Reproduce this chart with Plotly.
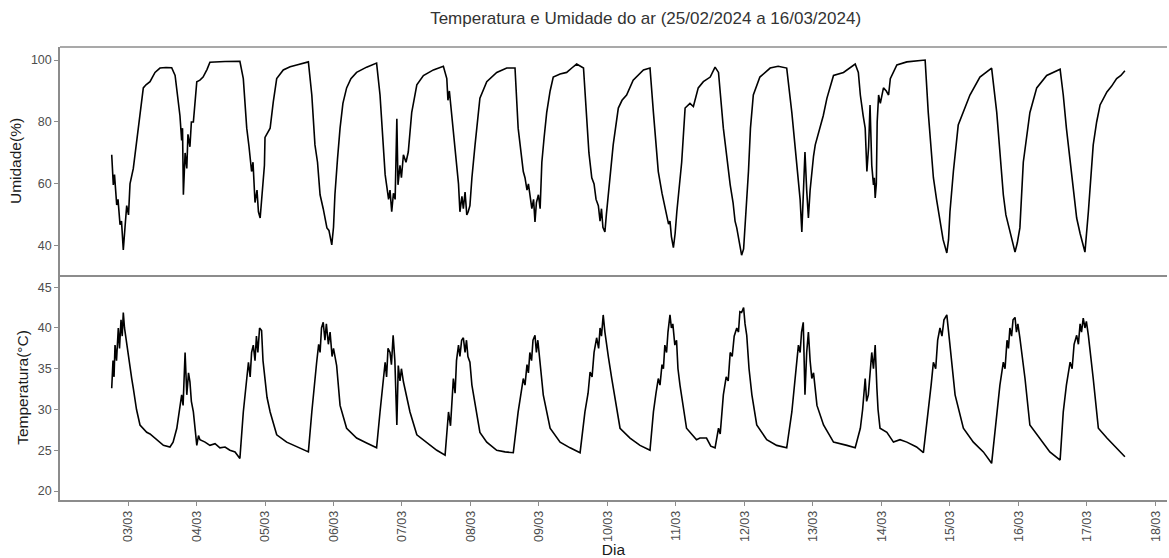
import pandas as pd
import plotly.graph_objects as go
from plotly.subplots import make_subplots

# Horas desde 03/03/2024 00:00 e valores
horas_umid = [-5.71, -5.15, -4.73, -3.96, -3.5, -2.8, -2.28, -1.65, -1.05, -0.46, 0.18, 0.70, 1.86, 2.8, 3.61, 4.55,
              5.36, 6.3, 7.71, 9.46, 11.2, 13.3, 15.3, 16.5, 17.6, 18.2, 18.8, 19.1, 19.4, 20.0, 20.6, 21.0, 21.7,
              22.2, 22.9, 23.5, 24.1, 25.2, 26.3, 27.7, 28.7, 34.0, 39.2, 40.4, 41.6, 42.4, 43.3, 43.8, 44.5, 45.2,
              45.7, 46.3, 46.8, 47.4, 47.8, 48.0, 48.7, 49.8, 50.9, 52.1, 54.4, 56.8, 59.1, 63.2, 64.4, 65.5, 66.4,
              67.3, 68.4, 69.7, 70.4, 71.4, 72.0, 72.5, 73.4, 74.3, 75.3, 76.6, 78.1, 80.1, 83.6, 87.1, 88.3, 89.5,
              90.1, 90.6, 91.3, 91.8, 92.4, 93.0, 93.6, 94.2, 94.6, 95.3, 95.8, 96.5, 97.4, 98.2, 99.4, 101.2,
              103.5, 107.0, 110.5, 111.7, 112.1, 112.6, 113.4, 114.2, 115.2, 115.8, 116.3, 117.0, 117.5, 118.1,
              118.7, 119.2, 119.8, 120.5, 121.6, 123.3, 125.7, 129.2, 132.7, 135.6, 136.7, 137.7, 138.5, 139.1,
              139.8, 140.3, 140.8, 141.5, 142.1, 142.6, 143.1, 143.8, 144.4, 145.0, 145.8, 146.7, 147.9, 149.0,
              151.4, 153.7, 155.6, 157.2, 159.6, 160.7, 161.5, 162.5, 163.3, 164.0, 164.8, 165.4, 165.9, 166.4,
              167.1, 167.6, 168.3, 169.0, 170.0, 171.8, 173.1, 174.7, 177.0, 180.6, 182.9, 184.1, 185.8, 187.1,
              187.8, 188.8, 189.4, 189.9, 190.4, 191.1, 191.7, 192.3, 193.1, 194.0, 195.2, 196.9, 198.1, 199.8,
              201.6, 204.0, 205.7, 206.9, 208.6, 209.6, 211.0, 212.0, 212.7, 213.3, 213.9, 214.4, 215.0, 215.7,
              216.2, 217.4, 218.1, 219.1, 221.4, 225.0, 227.8, 230.8, 232.6, 233.7, 234.9, 235.5, 236.1, 236.6,
              237.2, 237.8, 238.4, 239.0, 239.6, 240.2, 240.8, 242.5, 243.6, 244.9, 247.2, 250.7, 253.1, 254.8,
              255.9, 256.6, 257.6, 258.3, 258.9, 259.5, 260.0, 260.6, 261.2, 261.5, 261.8, 262.2, 262.5, 263.0,
              263.6, 264.7, 265.7, 266.5, 267.1, 269.4, 272.9, 275.8, 279.3, 280.4, 282.2, 283.3, 284.5, 285.6,
              286.9, 287.5, 288.0, 289.2, 290.9, 292.7, 295.0, 298.5, 302.6, 304.4, 305.5, 306.7, 307.6, 308.4,
              309.5, 310.8, 311.6, 312.5, 313.7, 316.0, 318.4, 321.9, 326.6, 327.7, 328.8, 330.1, 331.1, 332.4,
              333.6, 334.4, 335.3, 336.5, 338.2, 339.4, 340.6, 343.0, 344.6, 346.4, 347.9, 349.3]
umidade = [69.4, 59.7, 63, 53.2, 55, 46.8, 48, 38.7, 46, 53, 50, 60, 65, 72, 78, 86,
           91, 92, 93, 96, 97.4, 97.6, 97.5, 95, 85.5, 82, 74, 78, 56.5, 70, 65, 76, 72,
           80, 80, 87, 93, 93.5, 94.5, 97, 99.3, 99.5, 99.6, 94, 78, 72, 64, 67, 54, 58,
           51, 49, 55, 59.7, 66, 75, 76, 78, 86.5, 94, 96.8, 97.8, 98.4, 99.4, 88.7, 72.6, 67,
           56.5, 52, 45.8, 45, 40.3, 46, 56.5, 68, 78, 86, 91, 94, 96, 97.7, 99, 88.7, 70.3,
           63, 59.7, 55, 58, 51, 57, 55, 81, 59.7, 66, 62, 69.4, 67, 70.3, 83, 92,
           95, 96.8, 98, 94, 87, 90, 83, 75, 67, 60, 51, 56, 52, 57.4,
           50, 51, 53, 62, 72.6, 87.7, 93, 96, 97.4, 97.4, 78, 70, 64, 62,
           58, 60, 56.5, 52, 55, 47.7, 54, 56.5, 52, 67, 75, 83, 90, 94.5,
           95.5, 96, 97.5, 98.7, 97.4, 83, 70, 62, 60, 55, 53, 48, 52, 46,
           44.5, 50, 56.5, 64, 72.6, 84.5, 87, 88.7, 93.5, 96.8, 97.4, 83, 64, 57,
           54, 50, 47, 48, 43, 39.4, 44, 51, 58, 67, 84.5, 86, 85, 91,
           93, 94.5, 97.7, 96, 78, 70, 59.7, 54, 48, 45.8, 43, 40, 37, 39,
           45.8, 64, 78, 88.7, 94.5, 97.4, 98, 97.4, 83, 72, 62, 55, 44.5, 55,
           70.3, 58, 49, 58, 64, 69, 72.6, 78, 82, 87.7, 95, 96, 97.5, 98.7,
           96, 88.7, 82, 78, 64, 72, 85.5, 66, 59.7, 62, 55.5, 60, 80, 88.7,
           86, 91, 90, 88.7, 94, 98.4, 99.4, 99.6, 100, 83, 62, 55, 47.7, 42,
           37.7, 42, 51, 64, 79, 83, 88.7, 94.5, 97.4, 83, 70, 56.5, 50, 46.8,
           43, 38, 41, 45.8, 67, 83, 91, 95, 97, 88.7, 78, 67, 58, 49,
           44, 41, 38, 51, 72.6, 80, 85.5, 89.7, 91.5, 94, 95, 96.5]

horas_temp = [-5.71, -5.26, -4.9, -4.55, -4.03, -3.4, -2.98, -2.45, -2.03, -1.65, -1.23, -0.46, 0.18, 1.30, 1.86,
              2.98, 4.20, 6.55, 7.71, 9.46, 11.2, 12.4, 14.7, 15.8, 17.1, 17.9, 18.8, 19.3, 20.0, 20.6, 21.2, 21.7,
              22.2, 22.9, 23.5, 24.1, 24.7, 25.2, 27.0, 28.7, 30.5, 32.2, 34.0, 35.7, 37.5, 39.2, 40.4, 41.3, 42.2,
              42.8, 43.3, 43.9, 44.5, 45.0, 45.5, 46.1, 46.8, 47.3, 48.0, 48.7, 49.8, 52.1, 55.6, 60.3, 63.2, 64.4,
              65.2, 66.1, 66.8, 67.3, 67.8, 68.4, 69.0, 69.5, 70.2, 70.8, 71.5, 72.0, 73.1, 74.3, 76.6, 80.1, 83.6,
              87.1, 88.3, 89.2, 90.1, 90.6, 91.1, 91.8, 92.3, 92.9, 93.5, 94.2, 94.7, 95.3, 95.8, 96.5, 97.6, 98.8,
              101.2, 104.7, 108.2, 111.1, 112.3, 113.0, 114.0, 114.6, 115.1, 115.8, 116.3, 116.9, 117.5, 118.1,
              118.6, 119.1, 119.8, 120.5, 121.6, 123.3, 125.7, 129.2, 132.1, 135.0, 136.7, 137.7, 138.5, 139.1,
              139.8, 140.3, 140.8, 141.4, 141.9, 142.6, 143.1, 143.6, 144.3, 145.5, 147.9, 151.4, 154.9, 158.4,
              160.1, 161.2, 161.9, 162.6, 163.3, 164.2, 164.9, 165.4, 165.9, 166.5, 167.1, 167.7, 168.3, 169.5,
              171.0, 172.4, 175.9, 179.4, 182.9, 184.1, 185.0, 185.8, 186.4, 187.1, 187.6, 188.1, 188.7, 189.2,
              189.9, 190.4, 190.9, 191.6, 192.2, 192.7, 193.4, 195.7, 199.2, 200.4, 202.7, 204.2, 205.7, 206.9,
              207.5, 208.6, 209.6, 210.3, 211.0, 211.7, 212.4, 213.3, 213.9, 214.4, 215.0, 215.7, 216.2, 216.8,
              217.6, 218.6, 220.3, 223.8, 227.3, 230.8, 232.6, 233.7, 234.9, 235.5, 236.0, 236.6, 237.2, 237.8,
              238.4, 239.0, 239.6, 240.2, 241.4, 243.7, 247.2, 251.9, 254.8, 256.6, 257.4, 258.3, 258.8, 259.4,
              260.0, 260.6, 261.2, 261.8, 262.4, 262.8, 263.5, 265.9, 268.2, 270.5, 272.9, 276.3, 278.7, 280.4,
              281.4, 282.2, 283.0, 283.7, 284.5, 285.2, 285.9, 286.9, 287.4, 288.0, 289.8, 292.7, 296.2, 299.7,
              302.6, 304.4, 305.5, 306.7, 307.3, 308.0, 308.5, 309.0, 309.6, 310.1, 310.8, 311.3, 311.8, 312.5,
              314.3, 316.0, 319.5, 323.0, 326.6, 327.7, 328.8, 330.1, 330.8, 331.5, 332.4, 333.0, 333.6, 334.1,
              334.7, 335.3, 335.8, 336.5, 338.2, 340.0, 343.0, 346.4, 349.3]
temperatura = [32.6, 36, 34, 37.9, 36, 40, 37.5, 41, 39, 41.9, 40, 37.9, 36.5, 33.8, 32.6,
               30, 28.1, 27.2, 27.0, 26.5, 26, 25.6, 25.4, 26, 27.7, 29.5, 31.8, 30.5, 37, 31.8, 34.5, 33.4,
               31, 29.7, 27.5, 25.6, 26.8, 26.3, 26, 25.6, 25.8, 25.3, 25.4, 25, 24.8, 24, 29.7, 33, 35.8,
               34, 37, 37.9, 36, 39, 37, 40, 39.7, 36, 33.8, 31.5, 29.7, 26.9, 26, 25.3, 24.8, 29.7,
               33, 35.8, 38, 37, 40, 40.7, 38.5, 40.5, 38, 39.5, 36.5, 37.5, 35.4, 30.5, 27.7, 26.5, 25.9,
               25.3, 29.7, 33, 35.8, 34, 37.5, 37, 35.5, 39.1, 36, 28.1, 35.4, 33.5, 35, 33.4, 31.5, 29.7,
               26.9, 25.9, 25, 24.4, 29.7, 28, 33.8, 32, 36, 37.9, 36.5, 38.5, 38.8, 37,
               38.5, 36.5, 35.8, 33, 30.5, 27.2, 26, 25, 24.8, 24.7, 29.7, 32, 33.8, 33,
               35.5, 34.5, 37, 36, 38.5, 39.1, 37, 38.5, 35.8, 31.8, 27.7, 26, 25.3, 24.7,
               29.7, 32, 34.6, 34, 37, 38.8, 37.5, 40, 39, 41.6, 39.5, 37.9, 36.5, 33.8,
               30.5, 27.7, 26.5, 25.6, 25, 29.7, 32, 33.8, 33, 35.5, 35, 37.9, 37, 39.5,
               41.6, 40, 40.5, 37.9, 38.5, 35, 33, 27.7, 26.3, 26.5, 26.5, 25.5, 25.3, 27.7,
               27, 31.8, 34, 33.5, 37, 36.5, 39, 40, 39.5, 42, 41.9, 42.5, 40.5, 39.1,
               35, 31.8, 28.1, 26.3, 25.6, 25.3, 29.7, 34, 37.9, 37, 39.5, 40.7, 31.8, 37,
               39.5, 36, 33.8, 34.5, 30.5, 28.1, 26, 25.6, 25.3, 27.7, 30, 33.8, 31, 31.8,
               35, 37, 35, 37.9, 32.6, 30, 27.7, 27.2, 26, 26.3, 26, 25.4, 24.7, 29.7,
               33, 35.8, 35, 38.5, 40, 39, 41, 41.6, 39.5, 37.9, 31.8, 27.7, 26, 24.8,
               23.4, 29.7, 33, 35.8, 35, 38.5, 37.5, 40, 39, 41, 41.3, 39.5, 40.5, 38.8,
               33.8, 28.1, 26.5, 24.8, 23.8, 29.7, 33, 35.8, 35, 38, 39.1, 38, 40.5, 39.5,
               41.2, 40, 40.8, 39.1, 33.8, 27.7, 26.5, 25.3, 24.2]

dias_ticks = ["03/03", "04/03", "05/03", "06/03", "07/03", "08/03", "09/03", "10/03",
              "11/03", "12/03", "13/03", "14/03", "15/03", "16/03", "17/03", "18/03"]
umid_ticks = [40, 60, 80, 100]
temp_ticks = [20, 25, 30, 35, 40, 45]

base = pd.Timestamp("2024-03-03 00:00")
t_umid = base + pd.to_timedelta(horas_umid, unit="h")
t_temp = base + pd.to_timedelta(horas_temp, unit="h")
tick_dates = [pd.Timestamp(f"2024-{d[3:5]}-{d[0:2]}") for d in dias_ticks]

fig = make_subplots(rows=2, cols=1, shared_xaxes=True, vertical_spacing=0)
fig.add_trace(go.Scatter(x=t_umid, y=umidade, mode="lines",
                         line=dict(color="black", width=1.6), showlegend=False), row=1, col=1)
fig.add_trace(go.Scatter(x=t_temp, y=temperatura, mode="lines",
                         line=dict(color="black", width=1.6), showlegend=False), row=2, col=1)

FONT = "Liberation Sans, Arial, sans-serif"
axis_grey = "#8c8c8c"
tick_font = dict(family=FONT, size=12.5, color="#4d4d4d")
title_font = dict(family=FONT, size=15.5, color="#1a1a1a")
xr = [base + pd.Timedelta(hours=-23.83), base + pd.Timedelta(hours=364.05)]

fig.update_xaxes(range=xr, showgrid=False, zeroline=False, showline=True, linecolor=axis_grey,
                 linewidth=1.5, automargin=False)
fig.update_xaxes(ticks="", showticklabels=False, row=1, col=1)
fig.update_xaxes(ticks="outside", ticklen=4, tickcolor=axis_grey, tickvals=tick_dates,
                 ticktext=dias_ticks, tickangle=-90, tickfont=tick_font,
                 title=dict(text="Dia", font=title_font, standoff=3),
                 row=2, col=1)
fig.update_yaxes(showgrid=False, zeroline=False, showline=True, linecolor=axis_grey, linewidth=1.5,
                 ticks="outside", ticklen=4, tickcolor=axis_grey, tickfont=tick_font, automargin=False)
fig.update_yaxes(range=[30.6, 104.2], tickvals=umid_ticks, domain=[0.4967, 1.0],
                 title=dict(text="Umidade(%)", font=title_font, standoff=5),
                 row=1, col=1)
fig.update_yaxes(range=[18.9, 46.5], tickvals=temp_ticks, domain=[0.0, 0.4967],
                 title=dict(text="Temperatura(°C)", font=title_font, standoff=5),
                 row=2, col=1)

fig.add_shape(type="line", xref="paper", yref="paper", x0=0, x1=1, y0=1, y1=1,
              line=dict(color=axis_grey, width=1.5))

fig.update_layout(
    width=1169, height=558,
    margin=dict(l=60, r=2, t=47, b=58, autoexpand=False),
    paper_bgcolor="white", plot_bgcolor="white",
    title=dict(text="Temperatura e Umidade do ar (25/02/2024 a 16/03/2024)",
               x=0.529, xref="paper", xanchor="center", y=0.968, yanchor="middle",
               font=dict(family=FONT, size=17, color="#333333")),
)

fig.write_html("out.html")
